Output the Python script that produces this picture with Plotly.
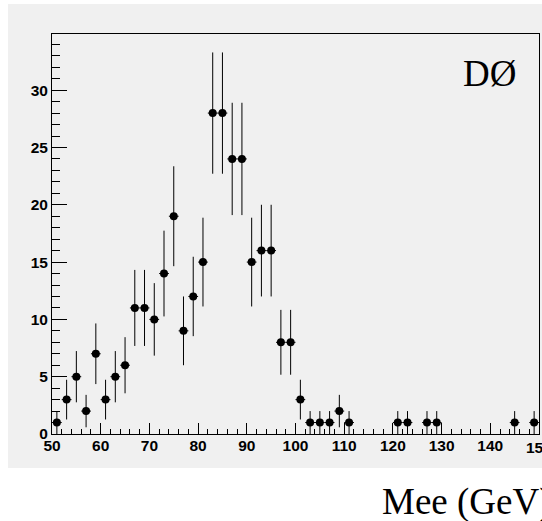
import numpy as np
import plotly.graph_objects as go

# Bin centers (GeV) and counts
mass = [51, 53, 55, 57, 59, 61, 63, 65, 67, 69, 71, 73, 75, 77, 79, 81, 83, 85, 87, 89,
        91, 93, 95, 97, 99, 101, 103, 105, 107, 109, 111, 121, 123, 127, 129, 145, 149]
counts = [1, 3, 5, 2, 7, 3, 5, 6, 11, 11, 10, 14, 19, 9, 12, 15, 28, 28, 24, 24,
          15, 16, 16, 8, 8, 3, 1, 1, 1, 2, 1, 1, 1, 1, 1, 1, 1]
errors = [float(np.sqrt(c)) for c in counts]
half_bin = 1.0
x_ticks = [50, 60, 70, 80, 90, 100, 110, 120, 130, 140, 150]

W, H = 542, 521
L, R, T, B = 52, 3, 34, 87
pw, ph = W - L - R, H - T - B

tickfont = dict(family="Liberation Sans Narrow, Liberation Sans, Arial, sans-serif",
                size=15.5, color="black", weight="bold")

fig = go.Figure()
fig.add_trace(go.Scatter(
    x=mass, y=counts, mode="markers",
    marker=dict(color="black", size=8, symbol="circle"),
    error_y=dict(type="data", array=errors, visible=True, color="black", thickness=1, width=0),
    error_x=dict(type="constant", value=half_bin, visible=True, color="black", thickness=1, width=0),
    showlegend=False,
))

# grey pad background (ROOT canvas style)
fig.add_shape(type="rect", xref="paper", yref="paper",
              x0=(8 - L) / pw, x1=(W + 5 - L) / pw,
              y0=(H - B - 468) / ph, y1=(H - B - 4) / ph,
              fillcolor="#f0f0f0", line=dict(width=0), layer="below")

fig.add_annotation(text="DØ", xref="paper", yref="paper",
                   x=(461 - L) / pw, y=(H - B - 51) / ph, xanchor="left", yanchor="top",
                   showarrow=False,
                   font=dict(family="Liberation Serif, Times New Roman, serif", size=37, color="black"))
fig.add_annotation(text="Mee (GeV)", xref="paper", yref="paper",
                   x=(380 - L) / pw, y=(H - B - 479) / ph, xanchor="left", yanchor="top",
                   showarrow=False,
                   font=dict(family="Liberation Serif, Times New Roman, serif", size=37, color="black"))

# last x tick label sits on the right edge (Plotly drops it), so draw it as text
fig.add_annotation(text=str(x_ticks[-1]), xref="x", yref="paper",
                   x=x_ticks[-1], y=(H - B - 447) / ph, xanchor="center", yanchor="middle",
                   showarrow=False, font=tickfont)

fig.update_layout(
    width=W, height=H,
    margin=dict(l=L, r=R, t=T, b=B, pad=0),
    paper_bgcolor="white", plot_bgcolor="#f0f0f0",
    xaxis=dict(range=[50, 150], tickvals=x_ticks[:-1],
               ticks="inside", ticklen=11, tickwidth=1,
               tickcolor="black", showgrid=False, zeroline=False, showline=True, mirror=True,
               linecolor="black", linewidth=1, tickfont=tickfont, ticklabelstandoff=-3,
               minor=dict(dtick=2, tick0=50, ticks="inside", ticklen=5, tickcolor="black", tickwidth=1, showgrid=False)),
    yaxis=dict(range=[0, 34.9], dtick=5, tick0=0, ticks="inside", ticklen=15, tickwidth=1,
               tickcolor="black", showgrid=False, zeroline=False, showline=True, mirror=True,
               linecolor="black", linewidth=1, tickfont=tickfont,
               minor=dict(dtick=1, ticks="inside", ticklen=8, tickcolor="black", tickwidth=1, showgrid=False)),
)

fig.write_html("out.html")
